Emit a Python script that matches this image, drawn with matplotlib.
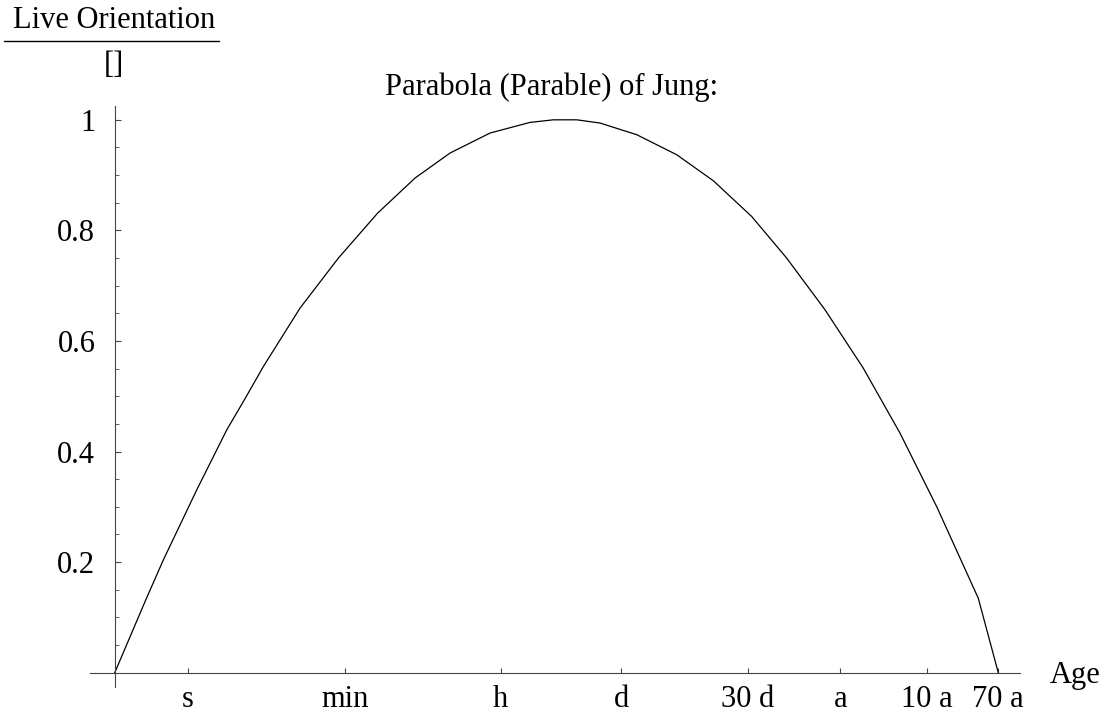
import numpy as np
import matplotlib
matplotlib.use("Agg")
from matplotlib import pyplot as plt
from matplotlib.ticker import MultipleLocator

plt.rcParams['font.family'] = ['Liberation Serif', 'DejaVu Serif']

# age axis, 0 = start of life, 1 = 70 years (log-like time scale)
age_pos = [0.0, 0.0351, 0.0550, 0.0928, 0.1268, 0.1467, 0.1682, 0.2097, 0.2531,
           0.2976, 0.3399, 0.3795, 0.4248, 0.4700, 0.4964, 0.5229, 0.5492, 0.5908,
           0.6360, 0.6775, 0.7209, 0.7605, 0.8039, 0.8472, 0.8888, 0.9303, 0.9774, 1.0]
orientation = [0.0, 0.1316, 0.2039, 0.3306, 0.4392, 0.4935, 0.5537, 0.6594, 0.7499,
               0.8313, 0.8947, 0.9399, 0.9761, 0.9953, 1.0, 1.0, 0.9942, 0.9731,
               0.9369, 0.8898, 0.8252, 0.7499, 0.6564, 0.5509, 0.4332, 0.3004, 0.1346, 0.0]

tick_pos = [0.0826, 0.2603, 0.4369, 0.5734, 0.7164, 0.8212, 0.9190, 1.0]
tick_labels = ['s', 'min', 'h', 'd', '30 d', 'a', '10 a', '70 a']
y_ticks = [0.2, 0.4, 0.6, 0.8, 1.0]
y_labels = ['0.2', '0.4', '0.6', '0.8', '1']

W, H = 1117, 720
fig = plt.figure(figsize=(W / 100, H / 100), dpi=100)
# axes box in pixels: x 90..1020, y 106..686.5 (from top)
ax = fig.add_axes([90 / W, (H - 686.5) / H, 930 / W, (686.5 - 106) / H])
ax.set_xlim(-0.028, 1.0246)
ax.set_ylim(-0.025, 1.025)

ax.plot(age_pos, orientation, color='black', lw=0.9)

axcol = '#444444'
for s in ['top', 'right']:
    ax.spines[s].set_visible(False)
for s in ['left', 'bottom']:
    ax.spines[s].set_position(('data', 0))
    ax.spines[s].set_color(axcol)
    ax.spines[s].set_linewidth(0.8)

ax.set_xticks(tick_pos)
ax.set_xticklabels(tick_labels)
ax.set_yticks(y_ticks)
ax.set_yticklabels(y_labels)
ax.yaxis.set_minor_locator(MultipleLocator(0.05))

ax.tick_params(axis='x', direction='in', length=3.8, width=0.8, color=axcol,
               labelsize=22, pad=9)
ax.tick_params(axis='y', which='major', direction='in', length=4.4, width=0.8,
               color=axcol, labelsize=22, pad=14)
ax.tick_params(axis='y', which='minor', direction='in', length=2.7, width=0.6,
               color=axcol)

# axis labels, Mathematica style
fig.text(1050 / W, 1 - 683 / H, 'Age', fontsize=22, ha='left', va='baseline')
fig.text(114 / W, 1 - 28.5 / H, 'Live Orientation', fontsize=22, ha='center',
         va='baseline')
fig.add_artist(plt.Line2D([4 / W, 219 / W], [1 - 40.7 / H, 1 - 40.7 / H],
                          color='black', lw=1.0))
fig.text(114 / W, 1 - 73 / H, '[]', fontsize=22, ha='center', va='baseline')
fig.text(552 / W, 1 - 95 / H, 'Parabola (Parable) of Jung:', fontsize=22,
         ha='center', va='baseline')

fig.savefig('out.png', dpi=100)
